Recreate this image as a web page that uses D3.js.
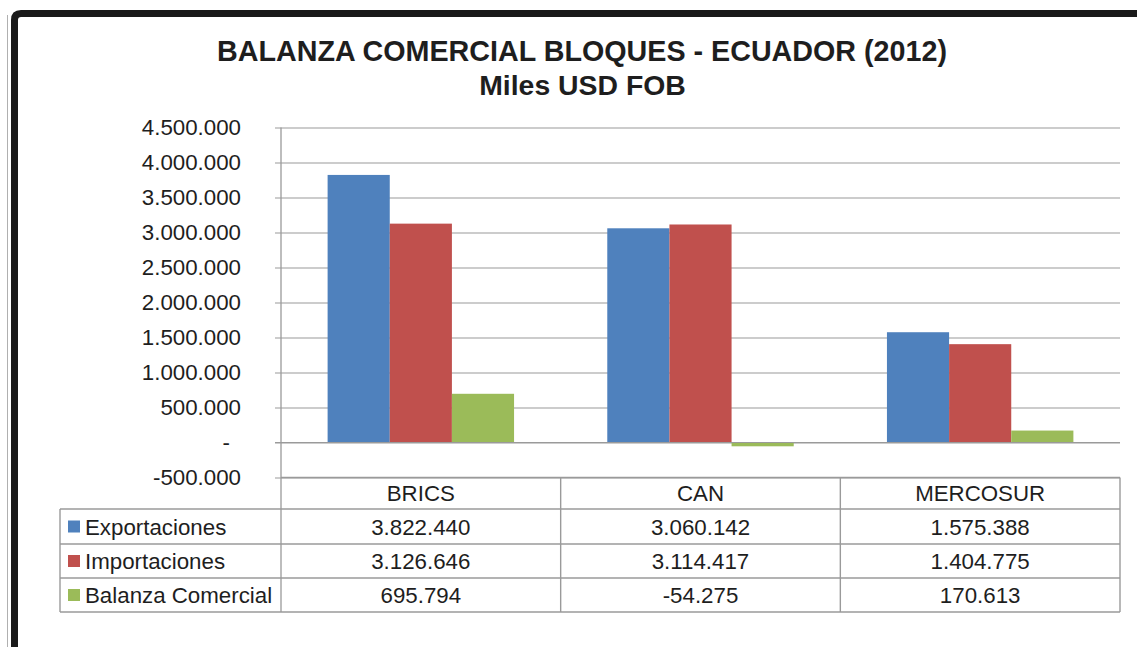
<!DOCTYPE html>
<html>
<head>
<meta charset="utf-8">
<script src="https://cdn.jsdelivr.net/npm/d3@7"></script>
<style>
  html, body { margin: 0; padding: 0; background: #fff; }
  svg { display: block; font-family: "Liberation Sans", Arial, sans-serif; }
</style>
</head>
<body>
<svg id="chart" width="1137" height="647"></svg>
<script>
const titleLines = ["BALANZA COMERCIAL BLOQUES - ECUADOR (2012)", "Miles USD FOB"];
const categories = ["BRICS", "CAN", "MERCOSUR"];
const seriesNames = ["Exportaciones", "Importaciones", "Balanza Comercial"];
const exportaciones = [3822440, 3060142, 1575388];
const importaciones = [3126646, 3114417, 1404775];
const balanza = [695794, -54275, 170613];
const seriesColors = ["#4F81BD", "#C0504D", "#9BBB59"];
const tickValues = [-500000, 0, 500000, 1000000, 1500000, 2000000, 2500000, 3000000, 3500000, 4000000, 4500000];
const tickLabels = ["-500.000", "-", "500.000", "1.000.000", "1.500.000", "2.000.000", "2.500.000", "3.000.000", "3.500.000", "4.000.000", "4.500.000"];

const seriesValues = [exportaciones, importaciones, balanza];
const fmt = v => (v < 0 ? "-" : "") + d3.format(",")(Math.abs(v)).replace(/,/g, ".");

const svg = d3.select("#chart");
const gridColor = "#9a9a9a";
const textColor = "#1e1e1e";
const fs = 22.3;

// Frame
svg.append("line").attr("x1", 7.5).attr("x2", 7.5).attr("y1", 15).attr("y2", 647)
  .attr("stroke", "#b0b0b0").attr("stroke-width", 1);
svg.append("path").attr("d", "M14.5,700 V20 Q14.5,13.5 21,13.5 H1200")
  .attr("fill", "none").attr("stroke", "#1a1a1a").attr("stroke-width", 7);

// Title
svg.append("text").attr("x", 582).attr("y", 61).attr("text-anchor", "middle")
  .attr("font-size", 28.7).attr("font-weight", "bold").attr("fill", textColor).text(titleLines[0]);
svg.append("text").attr("x", 582.5).attr("y", 95).attr("text-anchor", "middle")
  .attr("font-size", 28.4).attr("font-weight", "bold").attr("fill", textColor).text(titleLines[1]);

// Scales
const plotLeft = 281, plotRight = 1120;
const x0 = d3.scaleBand().domain(categories).range([plotLeft, plotRight]).paddingInner(0).paddingOuter(0);
const x1 = d3.scaleBand().domain(seriesNames).range([0, x0.bandwidth()]).paddingInner(0).paddingOuter(0.75);
const y = d3.scaleLinear().domain([-500000, 4500000]).range([477.5, 127.5]);

// Gridlines + tick marks
const yAxis = d3.axisLeft(y).tickValues(tickValues)
  .tickSize(-(plotRight - plotLeft)).tickSizeOuter(0)
  .tickFormat((d, i) => tickLabels[i]);
const gy = svg.append("g").attr("transform", `translate(${plotLeft},0)`).call(yAxis);
gy.select(".domain").remove();
gy.selectAll(".tick line").attr("stroke", gridColor).attr("stroke-width", 1.2).attr("x1", -6);
gy.selectAll(".tick text").attr("x", -40).attr("font-size", fs).attr("fill", textColor)
  .attr("font-family", "Liberation Sans, Arial, sans-serif")
  .attr("dx", d => d === 0 ? -11 : 0);

// Bars
const barData = [];
categories.forEach((c, ci) => seriesNames.forEach((s, si) => barData.push({ c, s, si, v: seriesValues[si][ci] })));
svg.append("g").selectAll("rect").data(barData).join("rect")
  .attr("x", d => x0(d.c) + x1(d.s))
  .attr("width", x1.bandwidth())
  .attr("y", d => y(Math.max(0, d.v)))
  .attr("height", d => Math.abs(y(d.v) - y(0)))
  .attr("fill", d => seriesColors[d.si]);

// Re-draw zero line above bars
svg.append("line").attr("x1", plotLeft - 6).attr("x2", plotRight).attr("y1", y(0)).attr("y2", y(0))
  .attr("stroke", gridColor).attr("stroke-width", 1.2);

// Value axis line
svg.append("line").attr("x1", plotLeft).attr("x2", plotLeft).attr("y1", y(4500000)).attr("y2", 612)
  .attr("stroke", gridColor).attr("stroke-width", 1.3);

// Data table
const tableTop = y(-500000);
const rowEdges = [tableTop, 509, 544, 578, 612];
const tableLeft = 60;
const tg = svg.append("g");
rowEdges.forEach((ry, i) => {
  tg.append("line").attr("x1", i === 0 ? plotLeft : tableLeft).attr("x2", plotRight)
    .attr("y1", ry).attr("y2", ry).attr("stroke", gridColor).attr("stroke-width", 1.4);
});
categories.forEach(c => {
  tg.append("line").attr("x1", x0(c) + x0.bandwidth()).attr("x2", x0(c) + x0.bandwidth())
    .attr("y1", tableTop).attr("y2", 612).attr("stroke", gridColor).attr("stroke-width", 1.4);
});
tg.append("line").attr("x1", tableLeft).attr("x2", tableLeft).attr("y1", 509).attr("y2", 612)
  .attr("stroke", gridColor).attr("stroke-width", 1.4);

categories.forEach(c => {
  tg.append("text").attr("x", x0(c) + x0.bandwidth() / 2).attr("y", (rowEdges[0] + rowEdges[1]) / 2)
    .attr("dy", "0.36em").attr("text-anchor", "middle").attr("font-size", fs).attr("fill", textColor).text(c);
});
seriesNames.forEach((s, si) => {
  const cy = (rowEdges[si + 1] + rowEdges[si + 2]) / 2;
  tg.append("rect").attr("x", 68).attr("y", cy - 6).attr("width", 12).attr("height", 12).attr("fill", seriesColors[si]);
  tg.append("text").attr("x", 85).attr("y", cy).attr("dy", "0.36em").attr("font-size", fs)
    .attr("fill", textColor).text(s);
  categories.forEach((c, ci) => {
    tg.append("text").attr("x", x0(c) + x0.bandwidth() / 2).attr("y", cy).attr("dy", "0.36em")
      .attr("text-anchor", "middle").attr("font-size", fs).attr("fill", textColor)
      .text(fmt(seriesValues[si][ci]));
  });
});
</script>
</body>
</html>
